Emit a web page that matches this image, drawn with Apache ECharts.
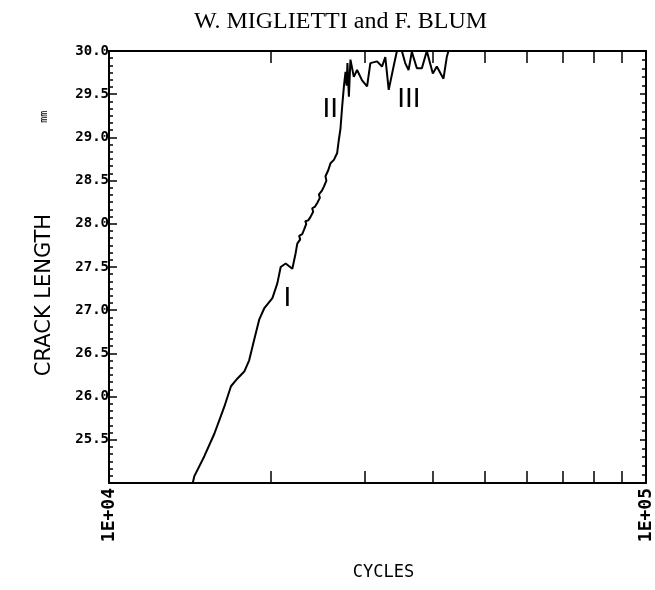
<!DOCTYPE html>
<html>
<head>
<meta charset="utf-8">
<script src="https://cdn.jsdelivr.net/npm/echarts@6/dist/echarts.min.js"></script>
<style>
  html, body { margin: 0; padding: 0; background: #fff; }
  #chart { width: 655px; height: 590px; }
</style>
</head>
<body>
<div id="chart"></div>
<script>
// ---- data ----
const cycles = [
  14320, 14420, 15050, 15710, 16390, 16870, 17350, 17860, 18240, 18640,
  19040, 19450, 20150, 20580, 20880, 21330, 21950, 22260, 22420, 22700,
  22600, 22900, 23070, 23300, 23200, 23500, 23730, 24000, 23900, 24200,
  24420, 24700, 24600, 24900, 25130, 25400, 25300, 25600, 25850, 26230,
  26600, 26790, 26980, 27180, 27380, 27570, 27700, 27800, 27970, 28160,
  28570, 28970, 29600, 30240, 30670, 31560, 32240, 32700, 33180, 33880,
  34370, 35110, 35610, 36130, 36640, 37440, 38250, 39070, 40090, 40780,
  41960, 42560, 42870
];
const crackLength = [
  25.00, 25.08, 25.31, 25.57, 25.88, 26.12, 26.21, 26.29, 26.42, 26.66,
  26.89, 27.02, 27.14, 27.31, 27.50, 27.54, 27.48, 27.66, 27.77, 27.82,
  27.86, 27.88, 27.93, 28.00, 28.03, 28.04, 28.08, 28.14, 28.18, 28.20,
  28.24, 28.30, 28.34, 28.38, 28.43, 28.50, 28.55, 28.62, 28.70, 28.74,
  28.82, 28.97, 29.10, 29.36, 29.59, 29.76, 29.60, 29.86, 29.47, 29.90,
  29.70, 29.78, 29.66, 29.59, 29.86, 29.88, 29.82, 29.93, 29.55, 29.82,
  30.00, 30.00, 29.86, 29.78, 29.99, 29.80, 29.80, 30.00, 29.74, 29.82,
  29.68, 29.93, 30.00
];
const xTickCycles = [20000, 30000, 40000, 50000, 60000, 70000, 80000, 90000];
const xLabelCycles = [10000, 100000];
const xLabelTexts = ['1E+04', '1E+05'];
const yMin = 25.0, yMax = 30.0, yStep = 0.5;
const stageNames = ['I', 'II', 'III'];
const stageCycles = [21480, 25820, 36170];
const stageCrack = [27.14, 29.33, 29.44];

// ---- chart ----
const chart = echarts.init(document.getElementById('chart'), null, { renderer: 'canvas' });
const lg = v => Math.log10(v);
const plotterFont = 'DejaVu Sans Mono';
const seriesData = cycles.map((c, i) => [lg(c), crackLength[i]]);

const xLabelMap = {};
xLabelCycles.forEach((c, i) => { xLabelMap[lg(c).toFixed(3)] = xLabelTexts[i]; });

const axisLine = { show: true, onZero: false, lineStyle: { color: '#000', width: 2 } };

chart.setOption({
  animation: false,
  backgroundColor: '#fff',
  title: {
    text: 'W. MIGLIETTI and F. BLUM',
    left: 189,
    top: 5,
    textStyle: { fontFamily: 'Liberation Serif', fontSize: 24, fontWeight: 'normal', color: '#000' }
  },
  grid: { left: 109, right: 5, top: 51, bottom: 107, containLabel: false },
  xAxis: [
    {
      type: 'value', position: 'bottom', min: lg(xLabelCycles[0]), max: lg(xLabelCycles[1]),
      axisLine: axisLine,
      axisTick: { show: true, inside: true, length: 12, customValues: xTickCycles.map(lg),
                  lineStyle: { color: '#000', width: 1.5 } },
      axisLabel: {
        show: true, customValues: xLabelCycles.map(lg), rotate: 90, margin: 5,
        fontFamily: plotterFont, fontWeight: 'bold', fontSize: 18, color: '#000',
        formatter: v => xLabelMap[v.toFixed(3)] || ''
      },
      splitLine: { show: false },
      name: 'CYCLES', nameLocation: 'middle', nameGap: 81,
      nameTextStyle: { fontFamily: plotterFont, fontSize: 17, color: '#000', padding: [0, 0, 0, 12] }
    },
    {
      type: 'value', position: 'top', min: lg(xLabelCycles[0]), max: lg(xLabelCycles[1]),
      axisLine: axisLine,
      axisTick: { show: true, inside: true, length: 12, customValues: xTickCycles.map(lg),
                  lineStyle: { color: '#000', width: 1.5 } },
      axisLabel: { show: false },
      splitLine: { show: false }
    }
  ],
  yAxis: [
    {
      type: 'value', position: 'left', min: yMin, max: yMax, interval: yStep,
      axisLine: axisLine,
      axisTick: { show: true, inside: true, length: 8, lineStyle: { color: '#000', width: 1.5 } },
      minorTick: { show: true, splitNumber: 6, length: 4, lineStyle: { color: '#000', width: 1.5 } },
      axisLabel: {
        margin: 0, fontFamily: plotterFont, fontWeight: 'bold', fontSize: 14, color: '#000',
        formatter: v => (Math.abs(v - yMin) < 1e-9 ? '' : v.toFixed(1))
      },
      splitLine: { show: false },
      name: '{a|CRACK LENGTH}{b|mm}', nameLocation: 'middle', nameGap: 54, nameRotate: 90,
      nameTextStyle: {
        padding: [0, 0, 0, 47],
        rich: {
          a: { fontFamily: 'DejaVu Sans', fontSize: 21, color: '#000' },
          b: { fontFamily: plotterFont, fontSize: 10, color: '#000', padding: [0, 0, 0, 91] }
        }
      }
    },
    {
      type: 'value', position: 'right', min: yMin, max: yMax, interval: yStep,
      axisLine: axisLine,
      axisTick: { show: true, inside: true, length: 6, lineStyle: { color: '#000', width: 1.5 } },
      minorTick: { show: true, splitNumber: 5, length: 4, lineStyle: { color: '#000', width: 1.5 } },
      axisLabel: { show: false },
      splitLine: { show: false }
    }
  ],
  series: [{
    type: 'line',
    xAxisIndex: 0, yAxisIndex: 0,
    data: seriesData,
    showSymbol: false,
    symbol: 'none',
    clip: true,
    lineStyle: { color: '#000', width: 2 },
    markPoint: {
      symbol: 'circle', symbolSize: 1,
      itemStyle: { color: 'rgba(0,0,0,0)' },
      label: {
        show: true, position: 'inside', color: '#000',
        fontFamily: 'Liberation Sans', fontSize: 28, fontWeight: 'normal',
        formatter: p => p.name
      },
      data: stageNames.map((n, i) => ({ name: n, coord: [lg(stageCycles[i]), stageCrack[i]] }))
    }
  }]
});
</script>
</body>
</html>
